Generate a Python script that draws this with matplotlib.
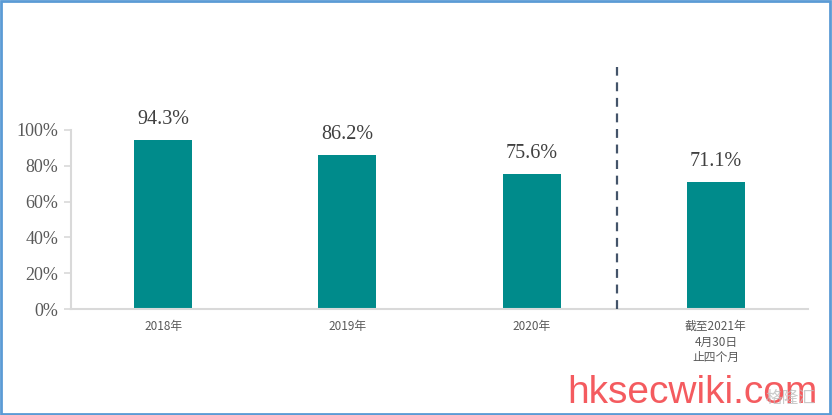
import matplotlib
matplotlib.use("Agg")
import matplotlib.pyplot as plt
from matplotlib.patches import Rectangle

categories = ["2018年", "2019年", "2020年", "截至2021年\n4月30日\n止四个月"]
values = [94.3, 86.2, 75.6, 71.1]
yticks = [0, 20, 40, 60, 80, 100]
ytick_labels = ["0%", "20%", "40%", "60%", "80%", "100%"]

fig = plt.figure(figsize=(8.32, 4.15), dpi=100)
ax = fig.add_axes([71/832, 1-309/415, (808-71)/832, (309-130)/415])

x = list(range(len(categories)))
bars = ax.bar(x, values, width=0.315, color="#008B8B", zorder=2)
ax.set_xlim(-0.5, len(categories) - 0.5)
ax.set_ylim(0, 100)

for xi, v in zip(x, values):
    ax.annotate(f"{v:.1f}%", (xi, v), xytext=(0, 8), textcoords="offset points",
                ha="center", va="bottom", fontsize=14.5, family="Liberation Serif",
                color="#404040")

ax.set_yticks(yticks)
ax.set_yticklabels(ytick_labels, family="Liberation Serif", fontsize=13, color="#595959")
ax.set_xticks(x)
ax.set_xticklabels(categories, family=["Noto Sans CJK SC", "DejaVu Sans"], fontsize=8.5,
                   color="#595959", linespacing=1.25, va="top")
ax.tick_params(axis="x", length=0, pad=8)
ax.tick_params(axis="y", length=5, width=1.2, color="#D9D9D9", pad=4)
for s in ["top", "right"]:
    ax.spines[s].set_visible(False)
for s in ["left", "bottom"]:
    ax.spines[s].set_color("#D9D9D9")
    ax.spines[s].set_linewidth(1.5)

ax.plot([2.463, 2.463], [0, 135], linestyle=(0, (4, 3)), color="#44546A",
        linewidth=1.6, clip_on=False, zorder=3)

fig.text(692/832, 1-393/415, "hksecwiki.com", fontsize=28, color="#F45B5F",
         ha="center", va="center", family="Liberation Sans")
fig.text(790/832, 1-398/415, "格隆汇", fontsize=12, color="#BDBDBD",
         ha="center", va="center", family=["Noto Sans CJK SC", "DejaVu Sans"], alpha=0.8)

fig.patches.append(Rectangle((0.001, 0.002), 0.997, 0.995, transform=fig.transFigure,
                             fill=False, edgecolor="#5B9BD5", linewidth=2))

fig.savefig("out.png", dpi=100)
